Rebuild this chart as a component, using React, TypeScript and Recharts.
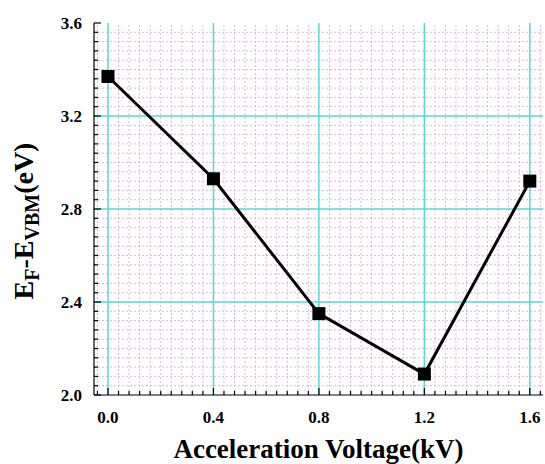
import { LineChart, Line, XAxis, YAxis, ReferenceLine } from "recharts";

// values
const voltage = [0.0, 0.4, 0.8, 1.2, 1.6];
const energy = [3.37, 2.93, 2.35, 2.09, 2.92];
const xTicks = [0.0, 0.4, 0.8, 1.2, 1.6];
const yTicks = [2.0, 2.4, 2.8, 3.2, 3.6];

const data = voltage.map((v, i) => ({ v, e: energy[i] }));

// minor ticks / grid every 0.04
const minorStep = 0.04;
const minorRange = (lo: number, hi: number) => {
  const out: number[] = [];
  const n = Math.round((hi - lo) / minorStep);
  for (let i = 0; i <= n; i++) out.push(+(lo + i * minorStep).toFixed(2));
  return out;
};
const xMinor = minorRange(-0.04, 1.64);
const yMinor = minorRange(2.0, 3.6);
const isMajor = (v: number, majors: number[]) => majors.some((m) => Math.abs(m - v) < 1e-6);

const FONT = "'Liberation Serif', 'Times New Roman', serif";
const MAJOR_LEN = 7;
const MINOR_LEN = 4;

const BottomTick = ({ x, y, payload }: any) => {
  const major = isMajor(payload.value, xTicks);
  return (
    <g>
      <line x1={x} x2={x} y1={y} y2={y - (major ? MAJOR_LEN : MINOR_LEN)} stroke="#000" strokeWidth={1.2} />
      {major && (
        <text x={x} y={y + 28} textAnchor="middle" fontFamily={FONT} fontWeight="bold" fontSize={17} fill="#000">
          {payload.value.toFixed(1)}
        </text>
      )}
    </g>
  );
};

const TopTick = ({ x, y, payload }: any) => {
  const major = isMajor(payload.value, xTicks);
  return <line x1={x} x2={x} y1={y} y2={y + (major ? MAJOR_LEN : MINOR_LEN)} stroke="#000" strokeWidth={1.2} />;
};

const LeftTick = ({ x, y, payload }: any) => {
  const major = isMajor(payload.value, yTicks);
  return (
    <g>
      <line x1={x} x2={x + (major ? MAJOR_LEN : MINOR_LEN)} y1={y} y2={y} stroke="#000" strokeWidth={1.2} />
      {major && (
        <text x={x - 12} y={y} dy={6} textAnchor="end" fontFamily={FONT} fontWeight="bold" fontSize={17} fill="#000">
          {payload.value.toFixed(1)}
        </text>
      )}
    </g>
  );
};

const RightTick = ({ x, y, payload }: any) => {
  const major = isMajor(payload.value, yTicks);
  return <line x1={x} x2={x - (major ? MAJOR_LEN : MINOR_LEN)} y1={y} y2={y} stroke="#000" strokeWidth={1.2} />;
};

const XTitle = ({ viewBox }: any) => {
  const cx = viewBox.x + viewBox.width / 2;
  return (
    <text x={cx} y={viewBox.y + 63} textAnchor="middle" fontFamily={FONT} fontWeight="bold" fontSize={27} fill="#000">
      Acceleration Voltage(kV)
    </text>
  );
};

const YTitle = ({ viewBox }: any) => {
  const cx = viewBox.x + 25;
  const cy = viewBox.y + viewBox.height / 2 + 12;
  return (
    <text
      x={cx}
      y={cy}
      transform={`rotate(-90 ${cx} ${cy})`}
      textAnchor="middle"
      fontFamily={FONT}
      fontWeight="bold"
      fontSize={28}
      fill="#000"
    >
      E<tspan dy={6} fontSize={20}>F</tspan>
      <tspan dy={-6}>-E</tspan>
      <tspan dy={6} fontSize={20}>VBM</tspan>
      <tspan dy={-6}>(eV)</tspan>
    </text>
  );
};

const Square = (p: any) => (
  <rect key={`sq-${p.index}`} x={p.cx - 6.5} y={p.cy - 6.5} width={13} height={13} fill="#000" />
);

export default function App() {
  return (
    <div style={{ position: "absolute", left: 8, top: 8, width: 537, height: 456, background: "#fff" }}>
      <LineChart
        width={537}
        height={456}
        data={data}
        margin={{ top: 15, right: 2, bottom: 0, left: 0 }}
        style={{ overflow: "visible" }}
      >
        {xMinor
          .filter((v) => !isMajor(v, xTicks))
          .map((v) => (
            <ReferenceLine key={`xm${v}`} x={v} stroke="#e2b4e2" strokeWidth={1} strokeDasharray="2 2" />
          ))}
        {yMinor
          .filter((v) => !isMajor(v, yTicks))
          .map((v) => (
            <ReferenceLine key={`ym${v}`} y={v} stroke="#e2b4e2" strokeWidth={1} strokeDasharray="2 2" />
          ))}
        {xTicks.map((v) => (
          <ReferenceLine key={`xM${v}`} x={v} stroke="#4fdcd6" strokeWidth={1.5} />
        ))}
        {yTicks.slice(1, -1).map((v) => (
          <ReferenceLine key={`yM${v}`} y={v} stroke="#4fdcd6" strokeWidth={1.5} />
        ))}

        <XAxis
          dataKey="v"
          type="number"
          domain={[-0.053, 1.65]}
          allowDataOverflow
          ticks={xMinor}
          interval={0}
          height={69}
          tickSize={0}
          tickMargin={0}
          tickLine={false}
          axisLine={{ stroke: "#000", strokeWidth: 1.2 }}
          tick={(p: any) => <BottomTick {...p} />}
          label={<XTitle />}
        />
        <XAxis
          xAxisId="top"
          orientation="top"
          type="number"
          domain={[-0.053, 1.65]}
          allowDataOverflow
          ticks={xMinor}
          interval={0}
          height={0}
          tickSize={0}
          tickMargin={0}
          tickLine={false}
          axisLine={{ stroke: "#000", strokeWidth: 1.2 }}
          tick={(p: any) => <TopTick {...p} />}
        />
        <YAxis
          type="number"
          domain={[2.0, 3.6]}
          allowDataOverflow
          ticks={yMinor}
          interval={0}
          width={86}
          tickSize={0}
          tickMargin={0}
          tickLine={false}
          axisLine={{ stroke: "#000", strokeWidth: 1.2 }}
          tick={(p: any) => <LeftTick {...p} />}
          label={<YTitle />}
        />
        <YAxis
          yAxisId="right"
          orientation="right"
          type="number"
          domain={[2.0, 3.6]}
          allowDataOverflow
          ticks={yMinor}
          interval={0}
          width={0}
          tickSize={0}
          tickMargin={0}
          tickLine={false}
          axisLine={{ stroke: "#000", strokeWidth: 1.2 }}
          tick={(p: any) => <RightTick {...p} />}
        />

        <Line
          type="linear"
          dataKey="e"
          stroke="#000"
          strokeWidth={3}
          dot={Square}
          activeDot={false}
          isAnimationActive={false}
        />
      </LineChart>
    </div>
  );
}
